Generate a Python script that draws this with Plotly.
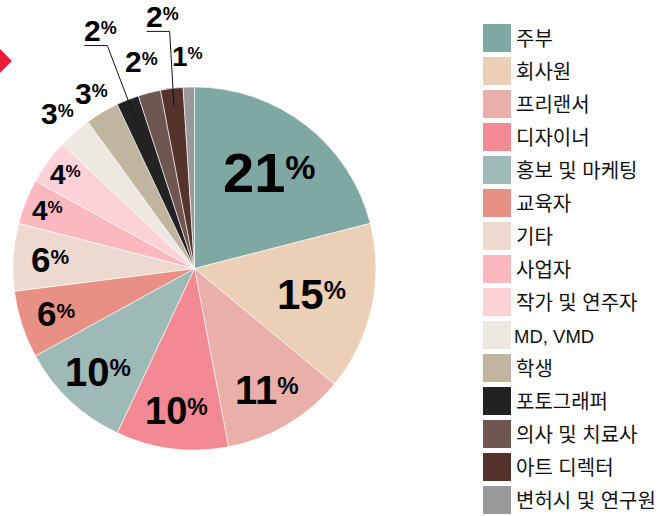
import math
import plotly.graph_objects as go

# ---------------- data ----------------
categories = ["주부", "회사원", "프리랜서", "디자이너", "홍보 및 마케팅", "교육자", "기타",
              "사업자", "작가 및 연주자", "MD, VMD", "학생", "포토그래퍼", "의사 및 치료사",
              "아트 디렉터", "변허시 및 연구원"]
values = [21, 15, 11, 10, 10, 6, 6, 4, 4, 3, 3, 2, 2, 2, 1]
colors = ["#7FA8A3", "#EBCFB6", "#E9AFA8", "#F38993", "#9DBAB7", "#E89084", "#EED9D1",
          "#FBB9BF", "#FCD1D7", "#EDE8E1", "#C1B59F", "#222222", "#6F5651", "#55332D", "#9A9999"]

# label styling (radial position as fraction of radius, digit font size, leader line flag)
label_radius = [0.67, 0.66, 0.78, 0.79, 0.78, 0.80, 0.80, 0.87, 0.88, 1.14, 1.12, 1.41, 1.18, 1.40, 1.17]
label_size = [56, 42, 40, 38, 40, 35, 35, 28, 28, 30, 30, 30, 30, 30, 28]
label_leader = [False] * 11 + [True, False, True, False]

W, H = 658, 516
CX, CY, R = 194.5, 268.5, 181.5


def px(x):
    return x / W


def py(y):
    return 1 - y / H


fig = go.Figure()
fig.add_trace(go.Pie(
    labels=categories, values=values, sort=False, direction="clockwise", rotation=0,
    marker=dict(colors=colors, line=dict(color="white", width=0.6)),
    textinfo="none", hoverinfo="label+percent", showlegend=False,
    domain=dict(x=[px(CX - R), px(CX + R)], y=[py(CY + R), py(CY - R)]),
))

annotations = []
shapes = []
total = sum(values)
cum = 0
for i, v in enumerate(values):
    mid = (cum + v / 2) / total * 2 * math.pi
    cum += v
    r = label_radius[i] * R
    lx = CX + r * math.sin(mid)
    ly = CY - r * math.cos(mid)
    F = label_size[i]
    pf = round(F * 0.6)
    sh = round(F * 0.24)
    txt = f"<b>{v}<span style='font-size:{pf}px;baseline-shift:{sh}px'>%</span></b>"
    annotations.append(dict(x=px(lx), y=py(ly), xref="paper", yref="paper", text=txt,
                            showarrow=False, xanchor="center", yanchor="middle",
                            font=dict(family="Arial, Liberation Sans", size=F, color="#000000")))
    if label_leader[i]:
        ex = CX + 0.9 * R * math.sin(mid)
        ey = CY - 0.9 * R * math.cos(mid)
        uy = ly + 15
        x0, x1 = lx - 16, lx + 7
        shapes.append(dict(type="path", xref="paper", yref="paper",
                           path=f"M {px(x0)},{py(uy)} L {px(x1)},{py(uy)} L {px(ex)},{py(ey)}",
                           line=dict(color="#111111", width=1)))

# legend (manual, large swatches)
for i, lab in enumerate(categories):
    top = 24 + 33 * i
    latin_only = all(ord(ch) < 128 for ch in lab)
    shapes.append(dict(type="rect", xref="paper", yref="paper",
                       x0=px(483), x1=px(511), y0=py(top + 28), y1=py(top),
                       fillcolor=colors[i], line=dict(width=0)))
    annotations.append(dict(x=px(512 if latin_only else 514), y=py(top + 15),
                            xref="paper", yref="paper", text=lab,
                            showarrow=False, xanchor="left", yanchor="middle",
                            font=dict(family="Arial, Noto Sans CJK KR",
                                      size=18.5 if latin_only else 20, color="#111111")))

# red arrow marker at the left edge
shapes.append(dict(type="path", xref="paper", yref="paper",
                   path=f"M {px(-2)},{py(47)} L {px(12)},{py(61)} L {px(-2)},{py(75)} Z",
                   fillcolor="#ED1C3B", line=dict(width=0)))

fig.update_layout(width=W, height=H, autosize=False, margin=dict(l=0, r=0, t=0, b=0),
                  paper_bgcolor="white", plot_bgcolor="white",
                  annotations=annotations, shapes=shapes, showlegend=False)

fig.write_html("out.html", config={"displayModeBar": False},
               post_script="document.body.style.margin='0';document.body.style.overflow='hidden';")
